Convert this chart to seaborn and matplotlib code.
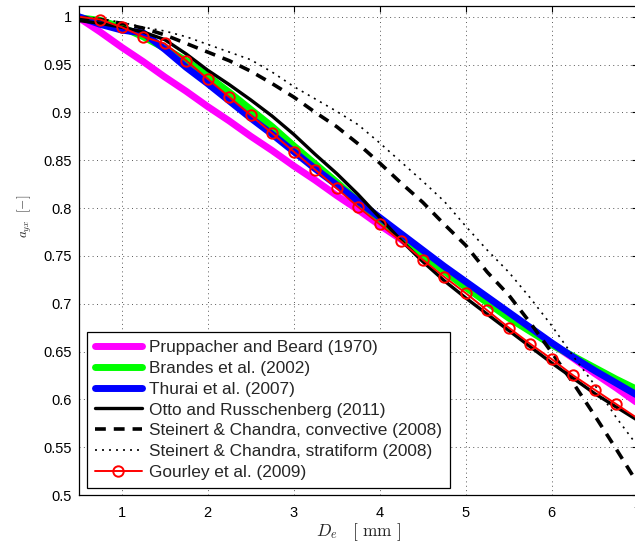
import matplotlib
matplotlib.use("Agg")
import matplotlib.pyplot as plt
from matplotlib.ticker import FuncFormatter, FixedLocator
import pandas as pd
import seaborn as sns

# Equivolume drop diameter (mm)
diameter_mm = [0.5, 0.75, 1.0, 1.25, 1.5, 1.75, 2.0, 2.25, 2.5, 2.75, 3.0, 3.25, 3.5,
               3.75, 4.0, 4.25, 4.5, 4.75, 5.0, 5.25, 5.5, 5.75, 6.0, 6.25, 6.5, 6.75, 7.0]

# Axis ratio models
pruppacher_beard = [0.999, 0.984, 0.968, 0.953, 0.937, 0.922, 0.906, 0.891, 0.875, 0.860,
                    0.844, 0.829, 0.813, 0.798, 0.782, 0.767, 0.751, 0.736, 0.720, 0.705,
                    0.689, 0.674, 0.658, 0.643, 0.627, 0.612, 0.596]
brandes = [0.999, 0.996, 0.989, 0.979, 0.967, 0.954, 0.938, 0.921, 0.903, 0.885,
           0.865, 0.846, 0.827, 0.807, 0.788, 0.769, 0.751, 0.734, 0.717, 0.701,
           0.685, 0.671, 0.657, 0.645, 0.633, 0.621, 0.610]
thurai = [1.000, 0.992, 0.986, 0.983, 0.966, 0.947, 0.930, 0.912, 0.894, 0.877,
          0.859, 0.841, 0.824, 0.807, 0.790, 0.773, 0.756, 0.739, 0.723, 0.707,
          0.691, 0.675, 0.659, 0.644, 0.630, 0.617, 0.604]
otto_russchenberg = [0.996, 0.993, 0.989, 0.984, 0.976, 0.961, 0.944, 0.929, 0.913, 0.896,
                     0.877, 0.856, 0.836, 0.814, 0.790, 0.766, 0.744, 0.724, 0.706, 0.689,
                     0.672, 0.655, 0.638, 0.622, 0.606, 0.592, 0.578]
steinert_convective = [0.999, 0.997, 0.993, 0.988, 0.981, 0.972, 0.963, 0.954, 0.943, 0.930,
                       0.916, 0.900, 0.885, 0.867, 0.847, 0.826, 0.806, 0.783, 0.761, 0.733,
                       0.709, 0.680, 0.649, 0.617, 0.583, 0.548, 0.512]
steinert_stratiform = [1.000, 0.998, 0.994, 0.989, 0.985, 0.979, 0.971, 0.963, 0.955, 0.942,
                       0.927, 0.914, 0.901, 0.887, 0.868, 0.848, 0.828, 0.807, 0.781, 0.756,
                       0.733, 0.706, 0.677, 0.645, 0.615, 0.581, 0.551]
gourley = [1.000, 0.997, 0.989, 0.979, 0.972, 0.954, 0.935, 0.916, 0.897, 0.878,
           0.859, 0.840, 0.8205, 0.801, 0.783, 0.765, 0.746, 0.728, 0.711, 0.693,
           0.675, 0.658, 0.642, 0.625, 0.610, 0.595, 0.580]

labels = ["Pruppacher and Beard (1970)", "Brandes et al. (2002)", "Thurai et al. (2007)",
          "Otto and Russchenberg (2011)", "Steinert & Chandra, convective (2008)",
          "Steinert & Chandra, stratiform (2008)", "Gourley et al. (2009)"]
series = [pruppacher_beard, brandes, thurai, otto_russchenberg,
          steinert_convective, steinert_stratiform, gourley]

x_ticks = [1, 2, 3, 4, 5, 6, 7]
y_ticks = [0.5, 0.55, 0.6, 0.65, 0.7, 0.75, 0.8, 0.85, 0.9, 0.95, 1.0]

frames = [pd.DataFrame({"D": diameter_mm, "ratio": vals, "model": lab})
          for lab, vals in zip(labels, series)]
df = pd.concat(frames, ignore_index=True)

styles = {
    labels[0]: dict(color="#ff00ff", linewidth=5.0, linestyle="-"),
    labels[1]: dict(color="#00ff00", linewidth=5.0, linestyle="-"),
    labels[2]: dict(color="#0000ff", linewidth=5.0, linestyle="-"),
    labels[3]: dict(color="black", linewidth=2.4, linestyle="-"),
    labels[4]: dict(color="black", linewidth=2.6, linestyle=(0, (3.0, 2.2))),
    labels[5]: dict(color="black", linewidth=1.2, linestyle=(0, (1.2, 3.0))),
    labels[6]: dict(color="red", linewidth=1.4, linestyle="-", marker="o",
                    markersize=7.5, markerfacecolor="none", markeredgecolor="red",
                    markeredgewidth=1.4, markevery=slice(1, -1)),
}

sns.set_theme(style="white")
plt.rcParams["font.family"] = ["Liberation Sans", "DejaVu Sans"]
plt.rcParams["mathtext.fontset"] = "cm"

fig = plt.figure(figsize=(6.35, 5.46), dpi=100)
ax = fig.add_axes([0.124, 0.0934, 0.8803, 0.8962])

for lab in labels:
    sub = df[df["model"] == lab]
    sns.lineplot(data=sub, x="D", y="ratio", ax=ax, label=lab, legend=False,
                 estimator=None, sort=False, **styles[lab])

ax.set_xlim(0.5, 7.0)
ax.set_ylim(0.5, 1.0115)
ax.xaxis.set_major_locator(FixedLocator(x_ticks))
ax.yaxis.set_major_locator(FixedLocator(y_ticks))
ax.yaxis.set_major_formatter(FuncFormatter(lambda v, p: f"{v:g}"))
ax.xaxis.set_major_formatter(FuncFormatter(lambda v, p: f"{v:g}"))

ax.grid(True, color="0.35", linestyle=(0, (1, 3.5)), linewidth=0.7)
ax.tick_params(axis="both", which="major", direction="in", length=4, width=0.8,
               top=True, right=True, labelsize=10.5, colors="black")
ax.tick_params(axis="y", pad=5)
ax.tick_params(axis="x", pad=8)
for sp in ax.spines.values():
    sp.set_color("black")
    sp.set_linewidth(0.9)

ax.set_xlabel(r"$D_e\ \ \ [\ \mathrm{mm}\ ]$", fontsize=12.5, labelpad=1)
ax.set_ylabel(r"$a_{yx}\ \ [-]$", fontsize=9.5)
ax.yaxis.set_label_coords(-0.08, 0.57)

handles = ax.get_lines()[:len(labels)]
leg = ax.legend(handles, labels, loc="lower left", bbox_to_anchor=(0.0143, 0.0149),
                borderaxespad=0, fancybox=False, framealpha=1, edgecolor="black",
                fontsize=12.45, handlelength=2.75, handletextpad=0.4,
                labelspacing=0.33, borderpad=0.45, numpoints=1)
leg.get_frame().set_linewidth(0.9)

fig.savefig("out.png", dpi=100, facecolor="white")
